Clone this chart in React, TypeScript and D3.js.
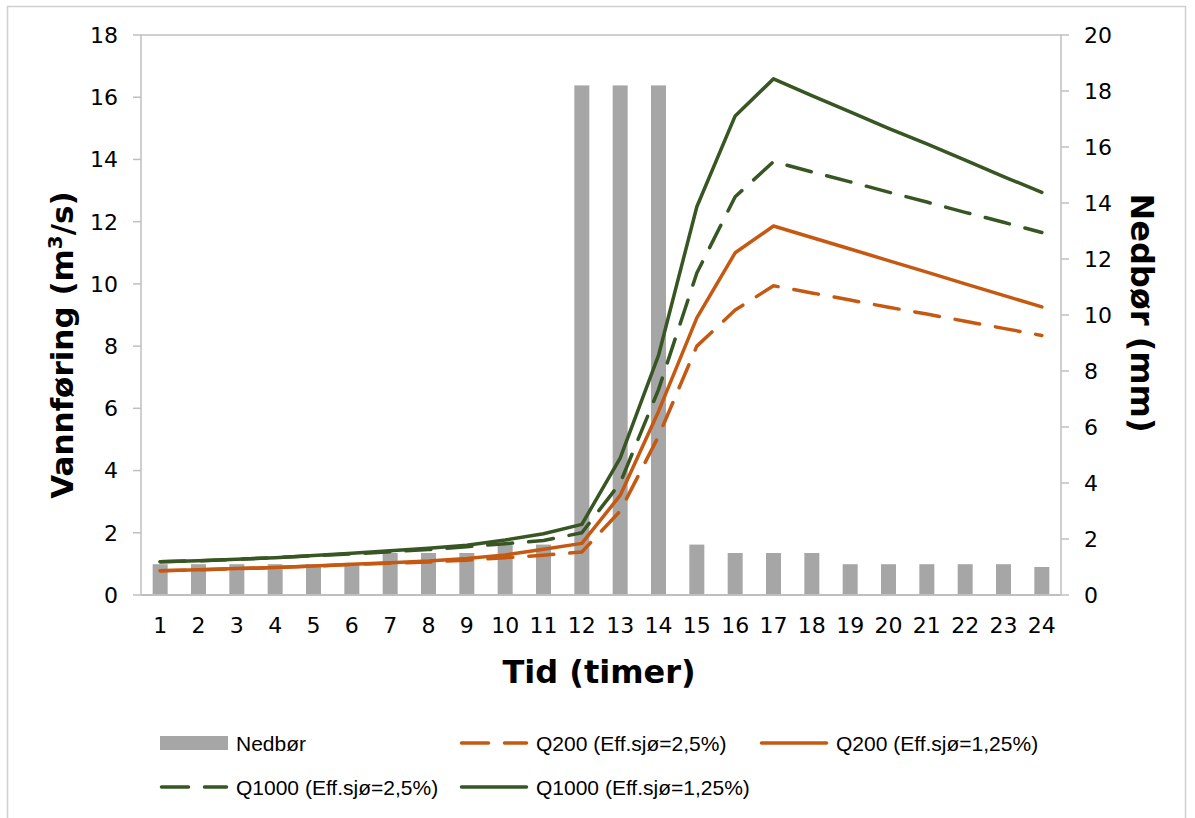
import React from "react";
import * as d3 from "d3";

const hours = d3.range(1, 25).map(String);
const rain = [1.1, 1.1, 1.1, 1.1, 1.1, 1.1, 1.5, 1.5, 1.5, 1.8, 1.8, 18.2, 18.2, 18.2, 1.8, 1.5, 1.5, 1.5, 1.1, 1.1, 1.1, 1.1, 1.1, 1.0];
const q200_25 = [0.78, 0.81, 0.85, 0.88, 0.93, 0.98, 1.02, 1.06, 1.12, 1.2, 1.28, 1.38, 2.7, 5.1, 8.0, 9.16, 9.94, 9.71, 9.48, 9.25, 9.03, 8.8, 8.57, 8.34];
const q200_125 = [0.78, 0.81, 0.85, 0.88, 0.93, 0.99, 1.04, 1.09, 1.17, 1.29, 1.47, 1.66, 3.2, 5.9, 8.91, 11.0, 11.86, 11.49, 11.12, 10.75, 10.38, 10.0, 9.63, 9.26];
const q1000_25 = [1.07, 1.1, 1.15, 1.2, 1.26, 1.32, 1.39, 1.46, 1.55, 1.65, 1.75, 2.0, 3.6, 6.6, 10.35, 12.8, 13.93, 13.6, 13.28, 12.95, 12.63, 12.3, 11.98, 11.65];
const q1000_125 = [1.07, 1.1, 1.15, 1.2, 1.27, 1.34, 1.42, 1.5, 1.6, 1.77, 1.97, 2.27, 4.4, 7.7, 12.48, 15.4, 16.59, 16.05, 15.53, 15.0, 14.5, 13.98, 13.45, 12.94];
const leftTicks = [0, 2, 4, 6, 8, 10, 12, 14, 16, 18];
const rightTicks = [0, 2, 4, 6, 8, 10, 12, 14, 16, 18, 20];

const ORANGE = "#c65911";
const GREEN = "#375623";
const GRAY = "#a6a6a6";
const AXIS = "#bfbfbf";

const series = [
  { name: "Q200 (Eff.sjø=2,5%)", values: q200_25, color: ORANGE, dash: "25,16" },
  { name: "Q200 (Eff.sjø=1,25%)", values: q200_125, color: ORANGE, dash: "" },
  { name: "Q1000 (Eff.sjø=2,5%)", values: q1000_25, color: GREEN, dash: "25,16" },
  { name: "Q1000 (Eff.sjø=1,25%)", values: q1000_125, color: GREEN, dash: "" },
];

export default function App() {
  const L = 141, R = 1061, T = 35, B = 595;
  const yL = d3.scaleLinear().domain([0, 18]).range([B, T]);
  const yR = d3.scaleLinear().domain([0, 20]).range([B, T]);
  const x = d3.scalePoint().domain(hours).range([L, R]).padding(0.5);
  const barW = 15;
  const line = d3.line<number>().x((_, i) => x(hours[i]) as number).y((d) => yL(d));
  const tickFont = "'DejaVu Sans', Verdana, sans-serif";
  const legFont = "'Liberation Sans', Arial, sans-serif";

  const legendItems = [
    { x: 160, y: 743, type: "bar", name: "Nedbør", color: GRAY, dash: "" },
    { x: 460, y: 743, type: "line", ...series[0] },
    { x: 760, y: 743, type: "line", ...series[1] },
    { x: 160, y: 787, type: "line", ...series[2] },
    { x: 460, y: 787, type: "line", ...series[3] },
  ];

  return (
    <svg width={1195} height={818} style={{ position: "absolute", left: 0, top: 0, background: "#fff" }}>
      <rect x={7.5} y={6.5} width={1178} height={840} fill="#fff" stroke="#d0d0d0" strokeWidth={1.5} />
      <line x1={L} x2={R} y1={T} y2={T} stroke={AXIS} strokeWidth={1.5} />
      <line x1={L} x2={L} y1={T} y2={B} stroke={AXIS} strokeWidth={1.5} />
      <line x1={R} x2={R} y1={T} y2={B} stroke={AXIS} strokeWidth={1.5} />
      {leftTicks.map((t) => (
        <g key={"l" + t}>
          <line x1={L - 8} x2={L} y1={yL(t)} y2={yL(t)} stroke={AXIS} strokeWidth={1.5} />
          <text x={118} y={yL(t)} dy="0.36em" textAnchor="end" fontFamily={tickFont} fontSize={22} fill="#000">{t}</text>
        </g>
      ))}
      {rightTicks.map((t) => (
        <g key={"r" + t}>
          <line x1={R} x2={R + 8} y1={yR(t)} y2={yR(t)} stroke={AXIS} strokeWidth={1.5} />
          <text x={1084} y={yR(t)} dy="0.36em" textAnchor="start" fontFamily={tickFont} fontSize={22} fill="#000">{t}</text>
        </g>
      ))}
      {rain.map((v, i) => (
        <rect key={"b" + i} x={(x(hours[i]) as number) - barW / 2} y={yR(v)} width={barW} height={B - yR(v)} fill={GRAY} />
      ))}
      <line x1={L} x2={R} y1={B} y2={B} stroke={AXIS} strokeWidth={2} />
      {series.map((s) => (
        <path key={s.name} d={line(s.values) as string} fill="none" stroke={s.color} strokeWidth={3.5}
          strokeDasharray={s.dash || undefined} strokeLinejoin="round" strokeLinecap="round" />
      ))}
      {hours.map((h) => (
        <text key={"x" + h} x={x(h) as number} y={633} textAnchor="middle" fontFamily={tickFont} fontSize={22} fill="#000">{h}</text>
      ))}
      <text x={599} y={683} textAnchor="middle" fontFamily={tickFont} fontWeight="bold" fontSize={32} fill="#000">Tid (timer)</text>
      <text transform={`translate(73,345) rotate(-90)`} textAnchor="middle" fontFamily={tickFont} fontWeight="bold" fontSize={31} fill="#000">
        Vannføring (m<tspan dy="-11" fontSize={20}>3</tspan><tspan dy="11">/s)</tspan>
      </text>
      <text transform={`translate(1131,313) rotate(90)`} textAnchor="middle" fontFamily={tickFont} fontWeight="bold" fontSize={32} fill="#000">Nedbør (mm)</text>
      {legendItems.map((it) => (
        <g key={it.name}>
          {it.type === "bar" ? (
            <rect x={it.x} y={it.y - 7} width={68} height={14} fill={GRAY} />
          ) : (
            <line x1={it.x + 1.5} x2={it.x + 66.5} y1={it.y} y2={it.y} stroke={it.color} strokeWidth={3.5}
              strokeDasharray={it.dash ? "27,16" : undefined} strokeLinecap="round" />
          )}
          <text x={it.x + 76} y={it.y} dy="0.36em" fontFamily={legFont} fontSize={21} fill="#000">{it.name}</text>
        </g>
      ))}
    </svg>
  );
}
